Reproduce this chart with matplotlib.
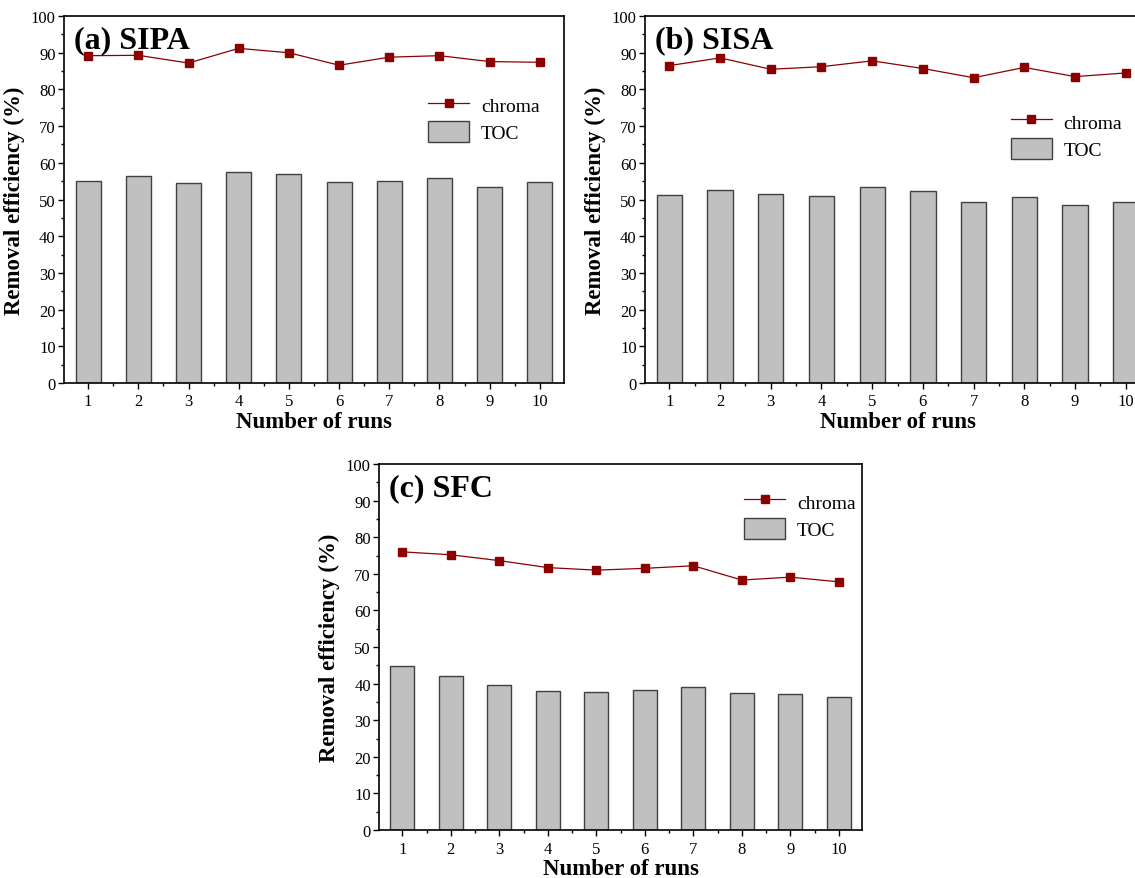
import matplotlib
matplotlib.use("Agg")
import matplotlib.pyplot as plt
from matplotlib.ticker import MultipleLocator

plt.rcParams['font.family'] = ['Liberation Serif', 'DejaVu Serif']

runs = list(range(1, 11))

# (a) SIPA
sipa_chroma = [89.2, 89.3, 87.2, 91.2, 90.0, 86.6, 88.8, 89.2, 87.6, 87.4]
sipa_toc = [55.0, 56.3, 54.5, 57.6, 57.0, 54.7, 55.1, 55.8, 53.5, 54.9]

# (b) SISA
sisa_chroma = [86.5, 88.6, 85.5, 86.2, 87.8, 85.7, 83.2, 86.0, 83.5, 84.5]
sisa_toc = [51.3, 52.7, 51.4, 51.1, 53.5, 52.2, 49.2, 50.8, 48.4, 49.3]

# (c) SFC
sfc_chroma = [76.0, 75.2, 73.6, 71.7, 71.0, 71.5, 72.2, 68.3, 69.1, 67.8]
sfc_toc = [44.7, 42.2, 39.5, 38.0, 37.8, 38.3, 39.1, 37.4, 37.1, 36.4]

panels = [
    ("(a) SIPA", sipa_chroma, sipa_toc, [0.0564, 0.5631, 0.4405, 0.4175], (0.694, 0.835)),
    ("(b) SISA", sisa_chroma, sisa_toc, [0.5683, 0.5631, 0.445, 0.4175], (0.69, 0.79)),
    ("(c) SFC", sfc_chroma, sfc_toc, [0.334, 0.0545, 0.4256, 0.4165], (0.72, 0.975)),
]

fig = plt.figure(figsize=(11.35, 8.79), dpi=100)

for title, chroma, toc, pos, leg_pos in panels:
    ax = fig.add_axes(pos)
    ax.bar(runs, toc, width=0.5, color='#c0c0c0', edgecolor='#404040',
           linewidth=1.0, label='TOC', zorder=2)
    ax.plot(runs, chroma, color='#8b0000', linewidth=0.9, marker='s',
            markersize=6, markerfacecolor='#8b0000', markeredgecolor='#8b0000',
            label='chroma', zorder=3)
    ax.set_xlim(0.52, 10.48)
    ax.set_ylim(0, 100)
    ax.set_xticks(runs)
    ax.yaxis.set_major_locator(MultipleLocator(10))
    ax.yaxis.set_minor_locator(MultipleLocator(5))
    ax.xaxis.set_minor_locator(MultipleLocator(0.5))
    ax.tick_params(axis='both', which='major', direction='out', length=4,
                   width=1, labelsize=12)
    ax.tick_params(axis='both', which='minor', direction='out', length=2, width=1)
    ax.tick_params(axis='y', pad=2)
    for sp in ax.spines.values():
        sp.set_linewidth(1.2)
    ax.set_xlabel("Number of runs", fontsize=16.5, fontweight='bold', labelpad=1)
    ax.set_ylabel("Removal efficiency (%)", fontsize=16.5, fontweight='bold', labelpad=4)
    ax.text(0.02, 0.975, title, transform=ax.transAxes, fontsize=23,
            fontweight='bold', va='top', ha='left')
    ax.legend(loc='upper left', bbox_to_anchor=leg_pos,
              frameon=False, fontsize=14, handlelength=2.1, handleheight=1.3,
              labelspacing=0.3, handletextpad=0.6)

fig.savefig("out.png", dpi=100)
